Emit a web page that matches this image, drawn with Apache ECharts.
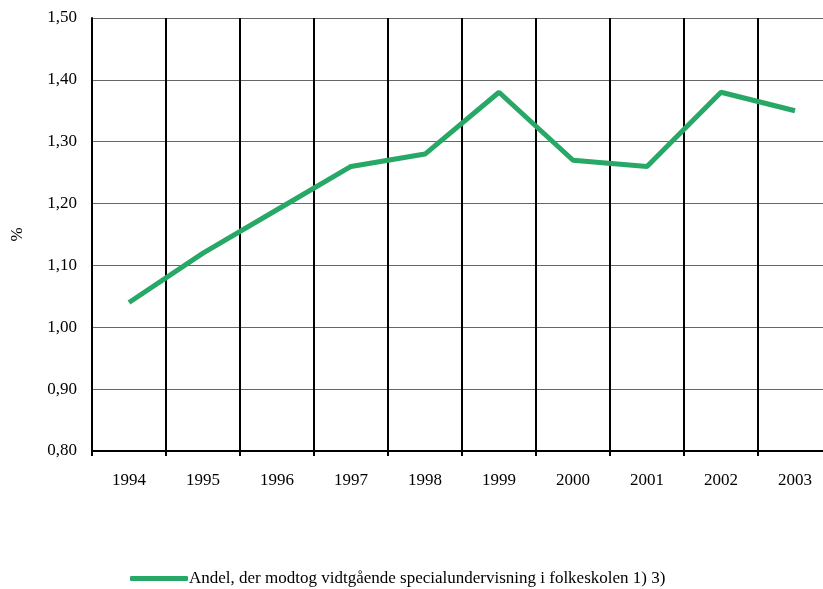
<!DOCTYPE html>
<html>
<head>
<meta charset="utf-8">
<script src="https://cdn.jsdelivr.net/npm/echarts@6/dist/echarts.min.js"></script>
<style>
  html, body { margin: 0; padding: 0; background: #fff; }
  #chart { width: 823px; height: 589px; }
</style>
</head>
<body>
<div id="chart"></div>
<script>
var years = ['1994', '1995', '1996', '1997', '1998', '1999', '2000', '2001', '2002', '2003'];
var andel = [1.04, 1.12, 1.19, 1.26, 1.28, 1.38, 1.27, 1.26, 1.38, 1.35];
var seriesName = 'Andel, der modtog vidtgående specialundervisning i folkeskolen 1) 3)';

var font = '"Liberation Serif", "DejaVu Serif", serif';
var myChart = echarts.init(document.getElementById('chart'));

var option = {
    animation: false,
    textStyle: { fontFamily: font },
    grid: {
        left: 92,
        top: 18,
        width: 740,
        height: 433,
        outerBoundsMode: 'none',
        containLabel: false
    },
    legend: {
        data: [{ name: seriesName, icon: 'roundRect' }],
        left: 128,
        top: 568,
        padding: 2,
        itemWidth: 58,
        itemHeight: 5,
        itemGap: 0,
        textStyle: { fontFamily: font, fontSize: 17, color: '#000', padding: [0, 0, 0, -4] }
    },
    xAxis: {
        type: 'category',
        data: years,
        boundaryGap: true,
        axisLine: { lineStyle: { color: '#000', width: 2 } },
        axisTick: { show: true, length: 5, interval: 0, lineStyle: { color: '#000', width: 2 } },
        axisLabel: { color: '#000', fontSize: 17, fontFamily: font, margin: 21 },
        splitLine: { show: true, interval: 0, lineStyle: { color: '#000', width: 2 } }
    },
    yAxis: {
        type: 'value',
        min: 0.8,
        max: 1.5,
        interval: 0.1,
        name: '%',
        nameLocation: 'middle',
        nameRotate: 90,
        nameGap: 66,
        nameTextStyle: { color: '#000', fontSize: 17, fontFamily: font },
        axisLine: { show: true, lineStyle: { color: '#000', width: 2 } },
        axisTick: { show: false },
        axisLabel: {
            color: '#000',
            fontSize: 17,
            fontFamily: font,
            margin: 15,
            formatter: function (v) { return v.toFixed(2).replace('.', ','); }
        },
        splitLine: { show: true, lineStyle: { color: '#666', width: 1 } }
    },
    series: [
        {
            name: seriesName,
            type: 'line',
            data: andel,
            symbol: 'none',
            lineStyle: { color: '#28a866', width: 5 },
            itemStyle: { color: '#28a866' }
        }
    ]
};

myChart.setOption(option);
</script>
</body>
</html>
